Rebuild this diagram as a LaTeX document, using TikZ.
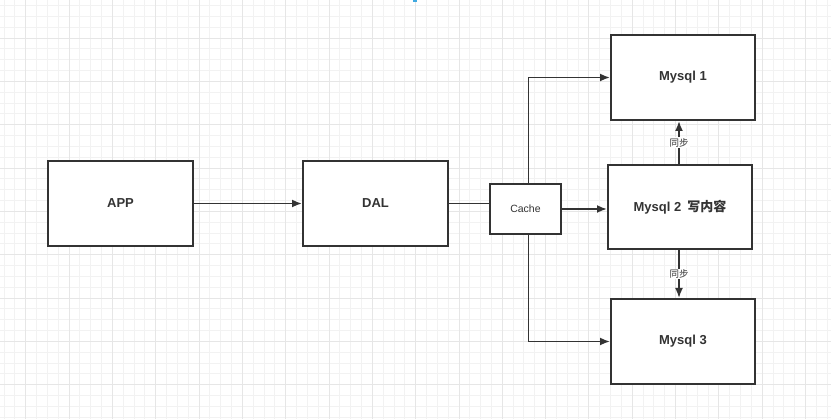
\documentclass[tikz,border=0pt]{standalone}
\usepackage{fontspec}
\setmainfont{Liberation Sans}
\newfontfamily\cjk{Noto Sans CJK SC}
\usetikzlibrary{arrows.meta,calc}
\definecolor{ink}{HTML}{333333}
\definecolor{gridminor}{HTML}{F2F2F2}
\definecolor{gridmajor}{HTML}{E6E6E6}
\definecolor{bluemark}{HTML}{3FA9E0}
\tikzset{
  box/.style={draw=ink,line width=2pt,fill=white,minimum width=#1,inner sep=0pt,text=ink,font=\fontsize{13}{15}\selectfont\bfseries},
  conn/.style={draw=ink,line width=1.8pt,-{Latex[length=10pt,width=8pt]}},
  plainline/.style={draw=ink,line width=1.8pt},
  synclabel/.style={fill=white,inner sep=1pt,text=ink,font=\fontsize{9.5}{10}\selectfont\cjk}
}
\begin{document}
\begin{tikzpicture}[x=1pt,y=-1pt]
\useasboundingbox (0,0) rectangle (831,419);
\fill[white] (0,0) rectangle (831,419);
% grid
\foreach \i in {0,...,77} {
  \pgfmathsetmacro\gx{4+10.83*\i}
  \draw[gridminor,line width=0.7pt] (\gx,0) -- (\gx,419);
}
\foreach \i in {0,...,38} {
  \pgfmathsetmacro\gy{5.5+10.83*\i}
  \draw[gridminor,line width=0.7pt] (0,\gy) -- (831,\gy);
}
\foreach \i in {0,...,19} {
  \pgfmathsetmacro\gx{25.7+43.32*\i}
  \draw[gridmajor,line width=0.8pt] (\gx,0) -- (\gx,419);
}
\foreach \i in {0,...,9} {
  \pgfmathsetmacro\gy{38+43.32*\i}
  \draw[gridmajor,line width=0.8pt] (0,\gy) -- (831,\gy);
}
\fill[bluemark] (413,0) rectangle (417,1.8);
% boxes
\node[box=145pt,minimum height=85pt] (app) at (120.5,203.5) {APP};
\node[box=145pt,minimum height=85pt] (dal) at (375.5,203.5) {DAL};
\node[box=71pt,minimum height=50pt,font=\fontsize{10.5}{12}\selectfont] (cache) at (525.5,209) {Cache};
\node[box=144pt,minimum height=85pt] (m1) at (683,77.5) {Mysql 1};
\node[box=144pt,minimum height=84pt] (m2) at (680,207) {Mysql 2\hspace{6pt}{\cjk 写内容}};
\node[box=144pt,minimum height=85pt] (m3) at (683,341.5) {Mysql 3};
% connectors
\draw[conn] (app.east) -- (dal.west);
\draw[plainline] (dal.east) -- (dal.east -| cache.west);
\draw[conn] (cache.east) -- (cache.east -| m2.west);
\draw[conn] ([xshift=3pt]cache.north) |- (m1.west);
\draw[conn] ([xshift=3pt]cache.south) |- (m3.west);
\draw[conn] ([xshift=-1pt]m2.north) -- ([xshift=-1pt]m2.north |- m1.south) node[midway,synclabel] {同步};
\draw[conn] ([xshift=-1pt]m2.south) -- ([xshift=-1pt]m2.south |- m3.north) node[midway,synclabel] {同步};
\end{tikzpicture}
\end{document}
